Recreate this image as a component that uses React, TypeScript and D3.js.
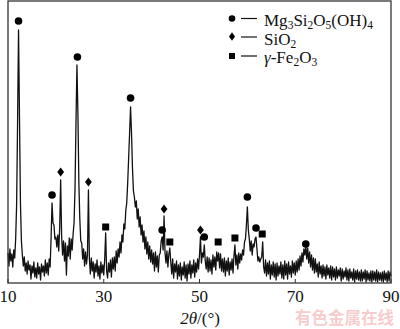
import React from "react";
import * as d3 from "d3";

const angleStart = 10;
const angleStep = 0.2;
const intensity: number[] = [
  30, 17, 34, 22, 29, 16, 33, 25, 44, 78,
  160, 253, 165, 80, 42, 28, 17, 26, 12, 20,
  9, 22, 13, 18, 4, 17, 10, 21, 6, 15,
  5, 20, 9, 16, 3, 19, 11, 17, 7, 23,
  10, 20, 8, 24, 16, 45, 80, 60, 58, 44,
  46, 36, 48, 32, 56, 103, 47, 28, 42, 22,
  40, 8, 37, 27, 45, 24, 44, 33, 49, 60,
  95, 160, 218, 170, 100, 64, 42, 40, 24, 34,
  17, 31, 19, 28, 93, 24, 9, 25, 12, 21,
  5, 19, 11, 23, 7, 17, 4, 21, 10, 18,
  8, 24, 50, 12, 5, 20, 11, 23, 6, 25,
  14, 26, 12, 32, 20, 34, 26, 41, 30, 48,
  41, 59, 54, 72, 80, 100, 125, 150, 176, 150,
  115, 92, 86, 76, 82, 64, 74, 56, 66, 48,
  58, 41, 52, 34, 46, 29, 41, 24, 37, 21,
  33, 19, 30, 12, 31, 16, 27, 11, 28, 30,
  42, 46, 33, 67, 30, 20, 32, 16, 29, 35,
  21, 9, 24, 5, 19, 11, 22, 4, 18, 7,
  20, 3, 16, 8, 21, 5, 18, 2, 19, 9,
  22, 5, 18, 10, 23, 6, 20, 11, 24, 14,
  28, 46, 20, 30, 26, 38, 22, 14, 26, 11,
  25, 12, 23, 9, 28, 16, 26, 13, 31, 22,
  30, 15, 29, 12, 24, 11, 25, 7, 22, 12,
  25, 8, 21, 13, 24, 10, 27, 38, 18, 28,
  14, 30, 20, 29, 23, 33, 28, 41, 44, 58,
  76, 53, 44, 32, 42, 28, 39, 36, 44, 46,
  34, 22, 26, 21, 24, 26, 41, 16, 10, 23,
  7, 20, 9, 22, 4, 18, 8, 21, 6, 19,
  3, 20, 7, 17, 9, 21, 5, 18, 4, 22,
  8, 19, 4, 21, 9, 17, 6, 22, 10, 20,
  8, 22, 11, 24, 13, 27, 17, 30, 21, 34,
  28, 37, 24, 35, 20, 31, 16, 28, 13, 25,
  10, 24, 11, 19, 6, 21, 9, 17, 5, 18,
  7, 16, 4, 18, 8, 15, 5, 17, 3, 16,
  6, 14, 3, 16, 5, 13, 7, 15, 2, 14,
  4, 12, 6, 15, 3, 13, 2, 14, 5, 11,
  3, 14, 1, 12, 4, 13, 3, 11, 2, 13,
  2, 11, 4, 13, 1, 12, 3, 10, 2, 12,
  1, 12, 3, 11, 2, 13, 1, 11, 3, 10,
  2, 11, 1, 12, 3, 10, 1, 12, 2, 11,
  7,
];

// Phase markers: [2θ, marker height (a.u.)]
const serpentinePeaks: [number, number][] = [
  [12.2, 262], [19.2, 88], [24.5, 226], [35.6, 185], [42.2, 53],
  [51.0, 46], [60.0, 86], [61.8, 55], [72.2, 39],
];
const quartzPeaks: [number, number][] = [
  [21.0, 111], [26.8, 101], [42.6, 74], [50.2, 53],
];
const maghemitePeaks: [number, number][] = [
  [30.4, 56], [43.8, 41], [53.9, 41], [57.4, 45], [63.1, 49],
];

const xTicks = [10, 30, 50, 70, 90];

const W = 400;
const H = 329;
const left = 8;
const right = 391;
const top = 1;
const bottom = 283;

const serif = "'Liberation Serif', 'Times New Roman', serif";

function Circle({ x, y, r }: { x: number; y: number; r: number }) {
  return <circle cx={x} cy={y} r={r} fill="#000" />;
}
function Diamond({ x, y, w, h }: { x: number; y: number; w: number; h: number }) {
  return (
    <path
      d={`M${x},${y - h}L${x + w},${y}L${x},${y + h}L${x - w},${y}Z`}
      fill="#000"
    />
  );
}
function Square({ x, y, s }: { x: number; y: number; s: number }) {
  return <rect x={x - s / 2} y={y - s / 2} width={s} height={s} fill="#000" />;
}

export default function App() {
  const x = d3.scaleLinear().domain([10, 90]).range([left, right]);
  const y = d3.scaleLinear().domain([0, 282]).range([bottom, top]);

  const pts: [number, number][] = intensity.map((v, i) => [
    angleStart + i * angleStep,
    v,
  ]);
  const line = d3
    .line<[number, number]>()
    .x((d) => x(d[0]))
    .y((d) => y(d[1]));

  const subSize = 11.5;
  const sub = 3;

  return (
    <svg
      width={W}
      height={H}
      style={{ position: "absolute", left: 0, top: 0, background: "#fff" }}
      fontFamily={serif}
    >
      <rect x={0} y={0} width={W} height={H} fill="#fff" />
      <path d={line(pts) || ""} fill="none" stroke="#111" strokeWidth={1.3} strokeLinejoin="round" />

      {serpentinePeaks.map(([a, v], i) => (
        <Circle key={"c" + i} x={x(a)} y={y(v)} r={3.8} />
      ))}
      {quartzPeaks.map(([a, v], i) => (
        <Diamond key={"d" + i} x={x(a)} y={y(v)} w={3.4} h={4.6} />
      ))}
      {maghemitePeaks.map(([a, v], i) => (
        <Square key={"s" + i} x={x(a)} y={y(v)} s={7} />
      ))}

      {/* frame */}
      <rect
        x={left}
        y={top}
        width={right - left}
        height={bottom - top}
        fill="none"
        stroke="#333"
        strokeWidth={1.3}
      />
      {xTicks.map((t) => (
        <g key={t}>
          <line x1={x(t)} x2={x(t)} y1={bottom} y2={bottom - 4} stroke="#333" strokeWidth={1} />
          <text x={x(t)} y={302} textAnchor="middle" fontSize={17} fill="#111">
            {t}
          </text>
        </g>
      ))}

      <text x={200} y={324} textAnchor="middle" fontSize={17} fill="#111">
        <tspan fontStyle="italic">2θ</tspan>
        <tspan>/(°)</tspan>
      </text>

      {/* legend */}
      <g fill="#111">
        <Circle x={232} y={18.5} r={3.3} />
        <line x1={241} x2={257} y1={18.5} y2={18.5} stroke="#111" strokeWidth={1.2} />
        <text x={264} y={25.5} fontSize={17}>
          Mg<tspan fontSize={subSize} dy={sub}>3</tspan>
          <tspan dy={-sub}>Si</tspan>
          <tspan fontSize={subSize} dy={sub}>2</tspan>
          <tspan dy={-sub}>O</tspan>
          <tspan fontSize={subSize} dy={sub}>5</tspan>
          <tspan dy={-sub}>(OH)</tspan>
          <tspan fontSize={subSize} dy={sub}>4</tspan>
        </text>

        <Diamond x={232} y={36.5} w={3} h={4.3} />
        <line x1={241} x2={257} y1={37} y2={37} stroke="#111" strokeWidth={1.2} />
        <text x={264} y={44.5} fontSize={17}>
          SiO<tspan fontSize={subSize} dy={sub}>2</tspan>
        </text>

        <Square x={232} y={56} s={6} />
        <line x1={241} x2={257} y1={56} y2={56} stroke="#111" strokeWidth={1.2} />
        <text x={264} y={63} fontSize={17}>
          <tspan fontStyle="italic">γ</tspan>-Fe
          <tspan fontSize={subSize} dy={sub}>2</tspan>
          <tspan dy={-sub}>O</tspan>
          <tspan fontSize={subSize} dy={sub}>3</tspan>
        </text>
      </g>

      {/* watermark */}
      <text
        x={394}
        y={324}
        textAnchor="end"
        fontSize={16.5}
        fontWeight="bold"
        fill="#f5b5b5"
        fillOpacity={0.7}
        fontFamily="'Noto Sans CJK SC', sans-serif"
      >
        有色金属在线
      </text>
    </svg>
  );
}
